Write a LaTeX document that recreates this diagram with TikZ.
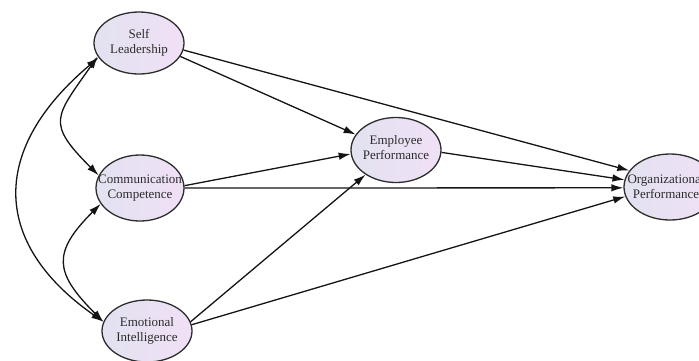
\documentclass[tikz,border=0pt]{standalone}
\usepackage{fontspec}
\setmainfont{Liberation Serif}
\usetikzlibrary{arrows.meta,shapes.geometric}
\definecolor{lavL}{RGB}{226,226,240}
\definecolor{lavR}{RGB}{241,224,246}
\definecolor{rim}{RGB}{45,45,45}
\definecolor{ink}{RGB}{20,20,20}
\begin{document}
\begin{tikzpicture}[x=1pt,y=1pt,
  construct/.style={ellipse, draw=rim, line width=1.3pt, left color=lavL, right color=lavR, inner sep=0pt},
  caption/.style={align=center, font=\fontsize{13}{15}\selectfont, text=ink!90, inner sep=0pt},
  link/.style={draw=ink, line width=1.3pt, -{Latex[length=12pt,width=7.5pt]}},
  cov/.style={draw=ink, line width=1.3pt, {Latex[length=12pt,width=7.5pt]}-{Latex[length=12pt,width=7.5pt]}}]
\useasboundingbox (0,-360) rectangle (699,0);

% latent constructs
\node[construct, minimum width=90pt, minimum height=62pt] (SL) at (139,-43) {};
\node[construct, minimum width=88pt, minimum height=66pt] (CC) at (140,-188) {};
\node[construct, minimum width=90pt, minimum height=62pt] (EI) at (147,-331) {};
\node[construct, minimum width=90pt, minimum height=65pt] (EP) at (396,-150) {};
\node[construct, minimum width=92pt, minimum height=66pt] (OP) at (670,-187) {};

\node[caption] (SLt) at (SL) {Self\\Leadership};
\node[caption] (CCt) at (CC) {Communication\\Competence};
\node[caption] (EIt) at (EI) {Emotional\\Intelligence};
\node[caption] (EPt) at ([yshift=2pt]EP.center) {Employee\\Performance};
\node[caption] (OPt) at ([xshift=-4pt]OP.center) {Organizational\\Performance};

% structural paths
\draw[link] (SL.-18) -- (EP.159);
\draw[link] (SL.-9)  -- (OP.158);
\draw[link] (CC.3)   -- (EP.185);
\draw[link] (CC.east) -- (OP.181);
\draw[link] (EI.12)  -- (EP.219);
\draw[link] (EI.8)   -- (OP.192);
\draw[link] (EP.-3)  -- (OP.171);

% correlations among the predictors
\draw[cov] (SL.198) to[out=235, in=135, looseness=1.6] (CC.163);
\draw[cov] (CC.202) to[out=225, in=135, looseness=1.5] (EI.168);
\draw[cov] (SL.200) to[out=220, in=145, looseness=1.35] (EI.168);
\end{tikzpicture}
\end{document}
